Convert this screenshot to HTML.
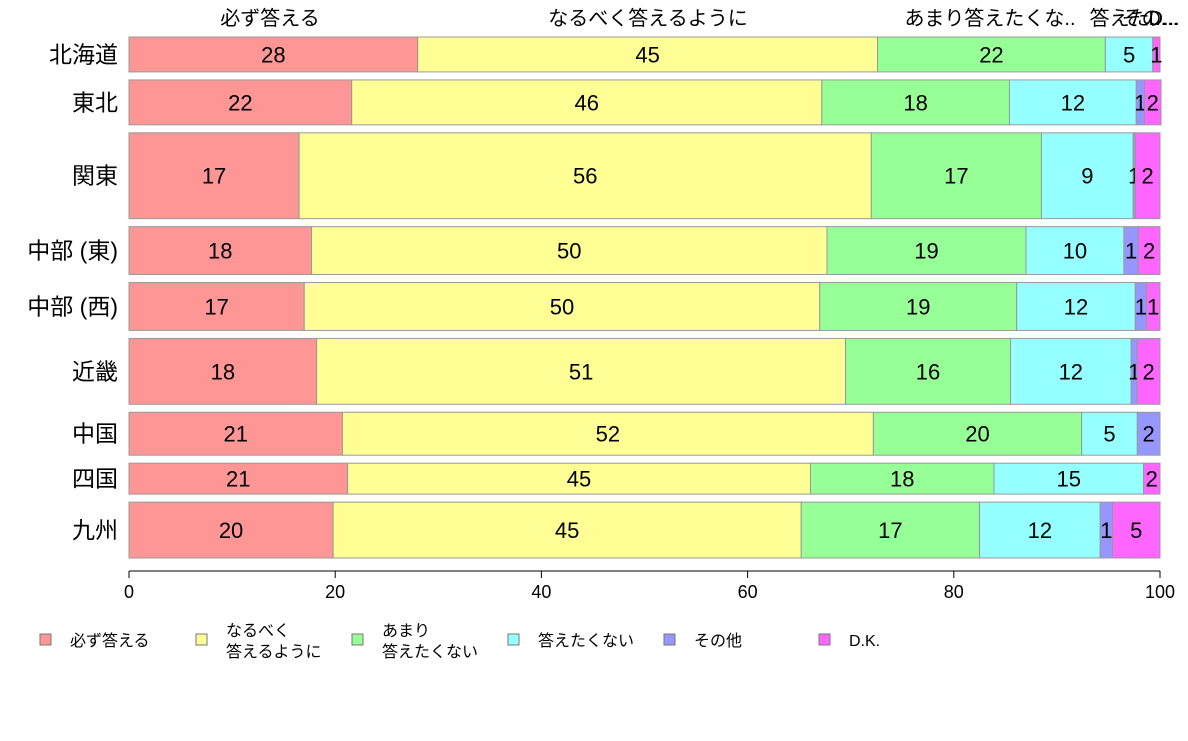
<!DOCTYPE html>
<html><head><meta charset="utf-8"><style>
body{margin:0;background:#fff;}
svg text{font-family:"Liberation Sans","Noto Sans CJK JP",sans-serif;}
</style></head><body>
<svg id="c" width="1188" height="736"></svg>
<script>
const categories=["北海道","東北","関東","中部 (東)","中部 (西)","近畿","中国","四国","九州"];
const seriesNames=["必ず答える","なるべく答えるように","あまり答えたくない","答えたくない","その他","D.K."];
const legendLabels=[["必ず答える"],["なるべく","答えるように"],["あまり","答えたくない"],["答えたくない"],["その他"],["D.K."]];
const sCertainly=[28.0,21.6,16.5,17.7,17.0,18.2,20.7,21.2,19.8];
const sIfPossible=[44.6,45.6,55.5,50.0,50.0,51.3,51.5,44.9,45.4];
const sRather=[22.1,18.2,16.5,19.3,19.1,16.0,20.2,17.8,17.3];
const sNot=[4.6,12.3,8.9,9.5,11.5,11.7,5.4,14.5,11.7];
const sOther=[0,0.8,0.2,1.4,1.1,0.6,2.2,0,1.2];
const sDK=[0.7,1.6,2.4,2.1,1.3,2.2,0,1.6,4.6];
const rowWeights=[35,45,86,48,48,66,43,31,56];
const ticks=[0,20,40,60,80,100];
const topLabels=["必ず答える","なるべく答えるように","あまり答えたくな..","答えた...","その...","D..."];
const colors=["#FF9696","#FFFF96","#96FF96","#96FFFF","#9696FF","#FF66FF"];
const series=[sCertainly,sIfPossible,sRather,sNot,sOther,sDK];
const NS="http://www.w3.org/2000/svg";
const svg=document.getElementById('c');
const X0=129,X1=1160,Y0=37,Y1=558,GAP=8;
const x=v=>X0+(X1-X0)*v/100;
function mk(t,a,p){const e=document.createElementNS(NS,t);for(const k in a)e.setAttribute(k,a[k]);(p||svg).appendChild(e);return e;}
const totalW=rowWeights.reduce((a,b)=>a+b,0);
const avail=(Y1-Y0)-GAP*(categories.length-1);
let y=Y0;
categories.forEach((cat,i)=>{
  const h=avail*rowWeights[i]/totalW;
  const g=mk('g',{});
  
  
  const lab=mk('text',{x:118,y:y+h/2+8,'text-anchor':'end','font-size':23,fill:'#000'},g);
  lab.textContent=cat;
  
  
  let cum=0;
  series.forEach((s,j)=>{
    const v=s[i];
    if(v<=0){return;}
    const r=mk('rect',{x:x(cum),y:y,width:x(cum+v)-x(cum),height:h,fill:colors[j],stroke:'#999','stroke-width':1},g);
    
    
    const t=mk('text',{x:(x(cum)+x(cum+v))/2,y:y+h/2+8,'text-anchor':'middle','font-size':22,fill:'#000'},g);
    t.textContent=Math.max(1,Math.round(v));
    
    
    cum+=v;
  });
  y+=h+GAP;
});
// top labels at first-row segment centres
let cum=0;
const tlx=[270,648,990,1128,1150,1164];
topLabels.forEach((l,j)=>{
  const t=mk('text',{x:tlx[j],y:25,'text-anchor':'middle','font-size':20,fill:'#000'});
  t.textContent=l;
  
  
});
// axis
const ax=mk('line',{x1:X0,x2:X1,y1:571,y2:571,stroke:'#000'});


ticks.forEach(v=>{
  const l=mk('line',{x1:x(v),x2:x(v),y1:571,y2:578,stroke:'#000'});
  
  
  const t=mk('text',{x:x(v),y:598,'text-anchor':'middle','font-size':18,fill:'#000'});
  t.textContent=v;
  
  
});
// legend
const lgx=[40,196,352,508,664,819];
legendLabels.forEach((ls,j)=>{
  const r=mk('rect',{x:lgx[j],y:634,width:11,height:11,fill:colors[j],stroke:'#777'});
  
  
  ls.forEach((s,k)=>{
    const t=mk('text',{x:lgx[j]+30,y:(ls.length===1?646:636+k*21),'font-size':16,fill:'#000'});
    t.textContent=s;
    
    
  });
});
</script>
</body></html>
